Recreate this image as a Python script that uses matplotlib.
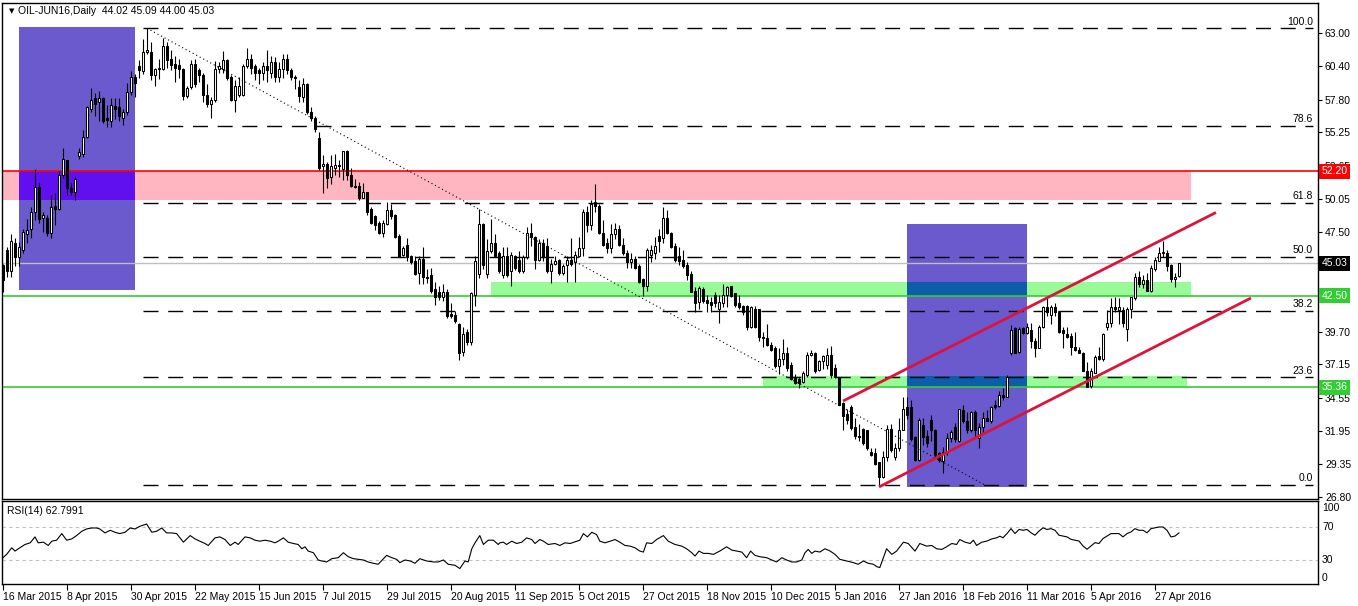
import matplotlib
matplotlib.use("Agg")
import matplotlib.pyplot as plt
import matplotlib.transforms as mtransforms
from matplotlib.patches import Rectangle

# ---- candles (one per trading day, 16 Mar 2015 .. 3 May 2016) ----
opens = [
    44.9, 46.1, 44.4, 46.6, 45.5, 46.1, 47.3, 47.7, 49.0, 51.0,
    48.6, 48.6, 47.4, 49.5, 49.3, 51.9, 53.1, 50.9, 50.6, 53.4,
    53.6, 54.9, 57.1, 57.9, 57.6, 57.9, 56.4, 56.1, 57.3, 57.2,
    56.4, 56.8, 58.4, 59.6, 60.4, 60.0, 61.5, 61.5, 59.7, 60.2,
    60.2, 62.0, 61.0, 60.6, 60.5, 60.2, 58.1, 58.8, 60.6, 60.1,
    59.7, 58.2, 57.5, 57.8, 60.2, 60.2, 60.9, 59.6, 57.8, 58.2,
    58.2, 60.4, 61.0, 60.4, 60.1, 59.9, 60.4, 59.9, 60.7, 59.6,
    60.2, 61.0, 60.1, 59.6, 58.8, 58.0, 59.0, 56.8, 56.4, 54.8,
    52.6, 52.8, 51.8, 52.5, 52.7, 52.4, 53.8, 51.9, 51.1, 51.1,
    50.1, 50.6, 49.3, 48.7, 48.2, 47.4, 48.1, 49.2, 48.8, 47.2,
    45.7, 46.5, 45.6, 45.2, 44.3, 45.4, 44.0, 44.1, 43.0, 42.8,
    42.4, 42.8, 41.1, 41.0, 40.3, 38.1, 39.7, 38.9, 42.6, 44.2,
    48.1, 44.2, 46.0, 46.6, 45.8, 44.1, 45.6, 44.4, 45.6, 45.3,
    44.4, 45.5, 47.4, 47.1, 45.3, 46.6, 46.4, 44.4, 45.0, 45.3,
    44.3, 44.9, 45.3, 45.1, 45.6, 46.2, 49.0, 48.0, 49.8, 49.5,
    47.4, 46.6, 46.2, 47.3, 47.7, 46.5, 45.8, 45.1, 45.4, 44.8,
    43.8, 43.3, 45.7, 45.8, 47.2, 47.0, 48.6, 47.4, 46.4, 45.6,
    45.3, 44.9, 44.2, 42.9, 42.0, 43.0, 42.2, 42.0, 42.6, 41.5,
    41.9, 42.6, 43.3, 42.7, 41.9, 41.7, 41.7, 40.1, 41.5, 41.5,
    39.3, 39.2, 38.7, 38.4, 37.0, 37.6, 38.0, 37.1, 36.1, 36.0,
    35.8, 36.3, 37.9, 38.0, 36.7, 37.4, 37.1, 37.9, 36.9, 36.2,
    34.1, 33.3, 33.8, 32.3, 31.6, 32.1, 32.0, 30.3, 30.2, 29.5,
    28.4, 29.9, 32.1, 29.9, 30.6, 32.0, 33.8, 33.8, 31.5, 29.7,
    32.4, 31.6, 32.8, 32.0, 30.2, 29.6, 30.3, 31.4, 32.3, 31.2,
    33.6, 32.7, 32.0, 33.4, 31.4, 32.3, 33.0, 32.7, 34.0, 33.9,
    34.8, 34.6, 38.0, 40.0, 38.1, 40.0, 39.6, 39.8, 39.0, 38.4,
    40.1, 41.6, 41.0, 41.6, 41.2, 39.8, 39.5, 39.4, 38.5, 38.3,
    38.0, 36.6, 35.5, 36.5, 37.8, 37.6, 40.1, 40.4, 41.6, 41.4,
    41.4, 39.9, 41.5, 42.3, 44.0, 43.4, 43.7, 42.9, 44.6, 45.2,
    45.8, 45.8, 44.9, 43.8, 44.02,
]
highs = [
    45.0, 46.3, 47.3, 47.0, 46.7, 47.7, 48.5, 49.4, 52.4, 51.3,
    49.0, 48.8, 50.4, 50.5, 52.2, 54.0, 53.1, 51.3, 51.8, 54.0,
    55.4, 57.3, 58.7, 58.3, 58.5, 58.0, 57.4, 57.9, 57.9, 57.9,
    57.1, 59.1, 60.0, 59.8, 60.9, 62.5, 63.4, 62.3, 60.3, 61.0,
    62.6, 62.3, 61.7, 61.2, 61.0, 60.3, 58.9, 60.9, 61.0, 60.3,
    59.9, 59.0, 58.0, 60.8, 60.7, 61.6, 61.0, 59.7, 59.3, 59.6,
    60.6, 61.8, 61.4, 60.6, 60.3, 60.7, 61.7, 61.2, 61.1, 60.7,
    61.4, 61.4, 60.3, 59.7, 59.3, 59.5, 59.1, 57.2, 56.5, 55.3,
    53.5, 52.9, 53.5, 53.6, 53.1, 53.8, 53.9, 52.5, 51.6, 51.4,
    51.3, 50.6, 49.4, 48.8, 48.3, 48.4, 49.8, 49.7, 48.9, 47.3,
    46.4, 47.0, 45.7, 45.6, 45.6, 46.3, 44.6, 44.7, 43.6, 43.3,
    43.4, 43.0, 41.9, 41.3, 40.4, 40.1, 39.9, 42.8, 45.6, 49.3,
    48.2, 46.9, 48.5, 47.3, 46.0, 46.3, 46.3, 45.9, 45.7, 46.0,
    45.7, 47.9, 48.2, 47.2, 46.9, 46.9, 47.0, 45.4, 45.6, 45.4,
    45.0, 45.6, 47.0, 46.0, 47.1, 49.3, 49.5, 50.0, 51.2, 49.7,
    48.4, 47.0, 48.1, 48.2, 48.0, 47.0, 46.1, 45.8, 45.6, 45.0,
    43.9, 46.2, 46.5, 47.1, 47.7, 49.4, 49.2, 47.5, 46.6, 46.3,
    46.1, 45.1, 44.4, 43.2, 43.3, 43.2, 42.6, 42.4, 42.8, 42.6,
    43.4, 43.3, 43.3, 42.7, 42.6, 41.8, 41.8, 41.7, 41.7, 41.5,
    39.7, 40.3, 38.9, 38.6, 38.4, 39.1, 38.5, 37.3, 36.4, 36.2,
    36.6, 38.1, 38.3, 38.1, 37.5, 37.9, 38.4, 38.6, 37.2, 36.2,
    34.2, 33.7, 34.0, 33.0, 32.5, 32.2, 32.0, 30.6, 30.6, 29.5,
    30.4, 32.4, 32.5, 31.0, 33.0, 34.6, 34.6, 34.4, 31.6, 33.0,
    33.0, 32.0, 33.2, 32.1, 30.3, 30.7, 31.8, 32.0, 32.6, 33.7,
    34.0, 33.4, 33.5, 33.6, 32.6, 33.4, 33.6, 33.9, 34.4, 35.1,
    35.3, 36.3, 40.2, 40.1, 40.1, 40.1, 40.4, 40.4, 39.2, 40.2,
    41.7, 42.3, 41.8, 41.9, 41.2, 40.1, 40.1, 39.6, 39.7, 38.5,
    38.1, 37.3, 36.9, 37.9, 38.5, 39.6, 41.4, 42.3, 42.4, 42.3,
    41.6, 41.6, 42.4, 44.3, 44.4, 44.1, 44.3, 44.9, 45.5, 46.3,
    46.8, 46.1, 45.0, 44.3, 45.09,
]
lows = [
    42.8, 44.0, 44.0, 44.8, 44.8, 45.8, 46.6, 47.0, 48.4, 48.2,
    47.5, 47.2, 47.0, 48.0, 49.2, 51.7, 50.4, 50.4, 50.0, 53.2,
    53.3, 54.8, 56.8, 56.5, 56.1, 56.0, 55.7, 55.7, 56.3, 56.1,
    55.8, 56.6, 58.2, 58.0, 59.5, 59.8, 61.4, 59.3, 58.9, 59.4,
    60.1, 60.3, 60.1, 59.2, 59.5, 57.8, 57.9, 58.6, 58.8, 59.2,
    57.6, 57.2, 56.4, 57.6, 59.9, 59.9, 59.3, 57.7, 56.8, 58.0,
    58.1, 60.3, 59.8, 59.3, 59.0, 59.3, 59.2, 59.5, 59.2, 59.2,
    59.5, 59.8, 59.3, 58.6, 57.6, 57.6, 56.7, 56.1, 55.3, 52.3,
    50.5, 50.9, 51.2, 51.9, 51.8, 51.5, 51.5, 51.0, 50.9, 50.0,
    50.1, 48.8, 48.1, 47.6, 47.3, 47.1, 48.0, 48.5, 47.0, 45.5,
    45.6, 45.2, 45.0, 44.1, 43.4, 43.4, 43.5, 42.7, 41.8, 42.2,
    42.1, 40.8, 40.8, 40.4, 37.5, 37.8, 38.7, 38.7, 41.7, 43.9,
    44.6, 43.9, 45.8, 45.5, 44.3, 43.9, 44.0, 43.3, 44.5, 44.3,
    44.3, 45.4, 46.4, 44.6, 45.2, 45.2, 44.3, 43.5, 44.9, 44.1,
    44.1, 43.6, 44.8, 43.6, 45.5, 45.6, 47.5, 47.6, 49.0, 47.3,
    46.4, 45.8, 45.8, 46.9, 46.4, 45.7, 44.7, 44.7, 44.6, 43.5,
    42.5, 42.9, 45.1, 45.4, 45.9, 46.6, 47.3, 46.2, 45.1, 44.9,
    44.7, 43.7, 42.8, 41.2, 41.5, 41.9, 41.2, 41.2, 41.6, 40.4,
    41.6, 41.6, 42.4, 41.6, 41.5, 41.0, 39.8, 40.0, 40.0, 39.0,
    38.5, 38.6, 38.2, 36.9, 36.4, 37.1, 36.6, 35.9, 35.6, 35.3,
    35.7, 36.2, 37.8, 36.5, 36.6, 36.8, 36.8, 36.1, 36.1, 34.0,
    32.0, 32.5, 32.0, 31.3, 31.2, 30.9, 30.5, 30.0, 29.3, 27.7,
    28.3, 29.6, 30.3, 29.7, 30.4, 32.0, 32.9, 31.2, 29.6, 29.6,
    30.9, 30.7, 31.2, 29.9, 29.5, 28.7, 30.1, 31.1, 31.1, 31.1,
    32.6, 31.8, 31.9, 31.4, 30.6, 31.8, 32.7, 32.6, 33.7, 33.8,
    34.4, 34.6, 37.9, 38.0, 38.0, 39.5, 39.5, 38.4, 37.7, 38.4,
    40.0, 40.9, 40.3, 40.9, 39.6, 38.4, 39.2, 37.9, 38.2, 38.0,
    36.6, 35.4, 35.3, 36.5, 37.5, 37.4, 39.8, 40.1, 41.2, 40.3,
    40.1, 39.0, 40.8, 42.2, 43.2, 43.1, 42.9, 42.8, 44.4, 45.2,
    45.5, 44.4, 43.6, 43.2, 44.00,
]
closes = [
    43.7, 44.4, 46.8, 45.5, 46.3, 47.5, 47.6, 49.0, 51.0, 48.5,
    48.8, 47.4, 49.4, 49.3, 51.9, 53.2, 50.9, 50.6, 51.6, 53.7,
    54.9, 57.2, 57.8, 57.5, 57.9, 56.1, 56.2, 57.4, 57.1, 56.5,
    56.8, 58.4, 59.6, 59.1, 60.1, 61.5, 61.7, 59.7, 60.2, 60.3,
    62.0, 60.9, 60.5, 60.3, 60.2, 58.1, 58.7, 60.6, 59.0, 59.7,
    58.2, 57.5, 57.8, 60.2, 60.4, 60.9, 59.5, 57.8, 58.9, 58.9,
    60.4, 61.0, 60.3, 59.9, 59.9, 60.4, 60.1, 60.7, 59.6, 60.2,
    61.0, 60.1, 59.6, 59.5, 58.1, 59.0, 56.8, 56.4, 55.5, 52.5,
    52.8, 51.7, 52.6, 52.7, 52.6, 53.8, 51.9, 51.1, 51.0, 50.1,
    50.6, 49.0, 48.2, 48.0, 47.4, 48.2, 49.2, 48.7, 47.1, 45.5,
    46.2, 45.5, 45.1, 44.2, 45.4, 44.0, 43.9, 42.9, 42.4, 42.4,
    42.8, 40.9, 40.9, 40.5, 38.0, 39.5, 38.9, 42.7, 45.2, 48.1,
    44.9, 46.0, 46.6, 45.6, 44.4, 45.6, 44.1, 45.7, 44.7, 44.4,
    45.5, 47.4, 47.1, 45.3, 46.6, 45.5, 44.4, 45.0, 45.2, 44.3,
    44.8, 45.3, 45.0, 45.7, 46.2, 49.0, 48.0, 49.7, 49.5, 47.4,
    46.5, 46.2, 47.3, 47.7, 46.5, 45.8, 45.1, 45.4, 44.7, 43.6,
    43.3, 46.1, 46.1, 46.4, 46.8, 48.6, 47.4, 46.3, 45.3, 45.2,
    44.8, 44.1, 42.8, 41.9, 43.1, 42.1, 41.9, 41.8, 41.9, 42.0,
    42.6, 43.2, 42.5, 41.8, 41.6, 41.2, 40.1, 41.6, 40.1, 39.3,
    39.2, 38.7, 38.3, 37.0, 37.6, 38.0, 36.9, 36.0, 35.7, 35.7,
    36.5, 37.9, 38.0, 36.6, 37.4, 37.8, 37.9, 36.3, 36.2, 34.0,
    33.1, 32.8, 32.2, 31.6, 31.5, 31.0, 30.6, 30.1, 29.4, 28.4,
    29.9, 32.1, 30.5, 30.6, 32.0, 33.7, 33.2, 31.3, 29.7, 32.8,
    31.5, 31.0, 32.0, 30.1, 29.7, 30.3, 31.4, 31.9, 31.3, 33.7,
    32.7, 32.0, 33.4, 32.0, 32.3, 33.0, 32.7, 33.8, 33.8, 34.8,
    34.6, 36.2, 39.8, 38.0, 39.9, 39.6, 40.1, 39.0, 38.4, 40.1,
    41.6, 41.2, 41.6, 41.2, 39.7, 39.6, 39.3, 38.5, 38.3, 38.0,
    36.6, 35.4, 36.6, 37.7, 37.6, 39.5, 40.4, 41.6, 41.5, 41.6,
    40.4, 41.5, 42.4, 44.0, 43.4, 43.7, 42.9, 44.7, 45.3, 45.8,
    45.9, 44.8, 43.8, 44.0, 45.03,
]
assert len(opens) == len(highs) == len(lows) == len(closes), (
    len(opens), len(highs), len(lows), len(closes))

# ---- RSI(14) (bar index, value) ----
rsi_bar = [
    0, 0.9, 2.2, 3, 4.2, 5.5, 6.8, 8, 8.8, 10.1, 11.3, 12.2, 13.4, 14.7, 15.9,
    17.2, 18.4, 19.7, 20.9, 22.2, 23.4, 24.2, 25.5, 26.8, 28, 29.2, 30.5, 31.8,
    33, 34.2, 35.9, 37.2, 38.4, 39.7, 40.9, 42.2, 43.4, 45.1, 46.8, 48, 49.2,
    50.5, 51.3, 53, 54.2, 55.5, 56.8, 58, 58.8, 60.5, 61.8, 63, 64.2, 65.5,
    66.8, 68, 68.8, 70.1, 71.3, 72.6, 73.8, 74.7, 75.5, 76.3, 77.6, 78.8, 79.7,
    80.9, 82.2, 83.8, 85.1, 86.3, 87.6, 88.8, 90.1, 91.3, 92.6, 93.8, 95.9,
    97.2, 98.4, 99.2, 100.5, 101.8, 103, 104.2, 105.9, 107.6, 108.8, 110.1,
    111.3, 113, 114.2, 115.5, 116.3, 117.2, 118, 119.2, 120.1, 121.3, 122.6,
    123.8, 124.2, 125.1, 125.9, 127.2, 128.4, 129.7, 130.9, 132.2, 133, 134.2,
    135.1, 136.3, 138, 139.2, 140.5, 141.8, 143, 144.2, 145.1, 146.1, 147.2,
    148.4, 149.2, 150.5, 151.8, 153, 154.2, 155.5, 156.8, 158, 159.2, 160.1,
    160.9, 162.2, 163.4, 165.1, 166.3, 168, 169.7, 170.9, 172.2, 173, 174,
    175.1, 176.3, 177.6, 179.2, 180.9, 182.2, 183.4, 184.7, 185.9, 186.9, 188,
    189.2, 190.9, 192.2, 193.4, 194.7, 195.9, 197.2, 198.4, 199.7, 200.5,
    201.3, 202.2, 203, 204.2, 205.5, 206.8, 208, 209.2, 210.9, 212.6, 213.8,
    215.1, 216.3, 217.6, 218.4, 219.2, 220.9, 222.2, 223.4, 225.1, 226.3, 228,
    229.2, 230.9, 232.2, 233.4, 234.7, 235.9, 237.2, 238.4, 239.2, 240.5,
    241.8, 242.6, 243.4, 244.7, 245.9, 247.2, 248.4, 249.2, 250, 251, 252,
    253, 254, 255, 256, 257, 258, 259, 260, 261, 262, 263, 264, 265, 266, 267,
    268, 269, 270, 271, 272, 273, 274, 275, 276, 277, 278, 279, 280, 281, 282,
    283, 284, 285, 286, 287, 288, 289, 290, 291, 292, 293, 294,
]
rsi_val = [
    32.8, 36.8, 44.8, 40.8, 44.8, 48.8, 50.8, 58.0, 50.8, 51.6, 47.6, 52.8,
    54.0, 62.0, 54.0, 55.6, 59.6, 64.8, 67.6, 68.8, 68.8, 67.6, 62.8, 66.0,
    63.6, 62.0, 63.6, 68.8, 67.6, 70.8, 73.6, 63.6, 64.8, 68.8, 62.8, 62.8,
    62.0, 51.6, 59.6, 55.6, 52.8, 50.0, 47.6, 56.8, 58.0, 54.8, 47.6, 51.6,
    48.8, 58.0, 56.8, 54.0, 52.8, 54.0, 52.8, 50.8, 52.8, 56.8, 51.6, 50.0,
    48.8, 43.6, 46.0, 40.8, 38.8, 30.0, 28.8, 27.6, 31.6, 32.8, 38.8, 34.0,
    31.6, 30.8, 30.0, 27.6, 26.0, 24.8, 35.6, 32.8, 30.8, 26.8, 30.0, 28.8,
    26.0, 31.6, 28.8, 27.6, 27.6, 30.0, 24.8, 23.6, 19.6, 28.8, 27.6, 43.6,
    50.8, 59.6, 48.8, 54.0, 54.0, 48.8, 50.8, 51.6, 48.8, 52.8, 50.0, 51.6,
    56.8, 54.8, 50.0, 54.8, 52.8, 48.8, 50.0, 47.6, 50.8, 50.0, 52.0, 54.0,
    62.0, 58.0, 63.6, 60.8, 52.8, 50.8, 52.8, 54.8, 51.6, 47.6, 46.8, 44.8,
    40.8, 39.6, 50.8, 50.0, 54.8, 59.6, 52.8, 48.8, 46.8, 43.6, 38.8, 34.8,
    40.8, 38.0, 38.0, 36.8, 40.8, 46.0, 42.0, 40.8, 39.6, 32.8, 40.8, 35.6,
    34.0, 32.8, 30.0, 27.6, 32.8, 30.0, 27.6, 27.6, 30.0, 38.8, 42.8, 38.0,
    40.8, 39.6, 43.6, 40.8, 36.8, 30.8, 28.8, 26.8, 24.8, 28.8, 26.0, 24.8,
    22.0, 20.8, 43.6, 36.8, 40.8, 51.6, 50.0, 40.8, 50.0, 46.8, 47.6, 43.6,
    42.8, 46.0, 50.0, 48.8, 54.8, 51.6, 50.0, 54.0, 47.6, 51.6, 52.8, 55.6,
    56.8, 58.8, 57.0, 62.0, 68.0, 62.0, 67.0, 66.0, 67.0, 63.0, 60.0, 65.0,
    69.0, 67.0, 68.0, 66.0, 60.0, 59.0, 58.0, 55.0, 54.0, 53.0, 47.0, 43.0,
    47.0, 51.0, 50.0, 56.0, 59.0, 62.0, 62.0, 62.0, 58.0, 62.0, 64.0, 68.0,
    66.0, 66.0, 63.0, 68.0, 69.0, 70.0, 70.0, 66.0, 58.0, 59.0, 62.8,
]

# ---- annotation objects ----
date_labels = [
    "16 Mar 2015", "8 Apr 2015", "30 Apr 2015", "22 May 2015", "15 Jun 2015",
    "7 Jul 2015", "29 Jul 2015", "20 Aug 2015", "11 Sep 2015", "5 Oct 2015",
    "27 Oct 2015", "18 Nov 2015", "10 Dec 2015", "5 Jan 2016", "27 Jan 2016",
    "18 Feb 2016", "11 Mar 2016", "5 Apr 2016", "27 Apr 2016",
]
date_bars = list(range(0, 16 * len(date_labels), 16))
# scale labels left visible (44.90 and 42.30 sit under the price tags)
price_ticks = [63.00, 60.40, 57.80, 55.25, 52.65, 50.05, 47.50,
               39.70, 37.15, 34.55, 31.95, 29.35, 26.80]

fib_high, fib_low = 63.37, 27.74
fib_levels = [0.0, 23.6, 38.2, 50.0, 61.8, 78.6, 100.0]
fib_start_bar = 35
resistance = 52.20
supports = [42.50, 35.36]
bid = 45.03
# zones: (first bar, last bar, low price, high price)
pink_zone = (-0.25, 297, 49.97, 52.20)
green_zones = [(122, 297, 42.50, 43.57), (190, 296, 35.36, 36.24)]
blue_boxes = [(4, 33, 42.95, 63.47), (226, 256, 27.60, 48.10)]
trend_pts = [(36, 63.37), (245.5, 27.74)]
channel_upper = [(210, 34.29), (303.25, 49.00)]
channel_lower = [(219, 27.59), (312, 42.33)]

W, H = 1358, 606
FS = 7.5
plt.rcParams["font.family"] = ["Liberation Sans", "DejaVu Sans"]
fig = plt.figure(figsize=(W / 100, H / 100), dpi=100)
ax = fig.add_axes([2 / W, 1 - 499 / H, 1316 / W, 496 / H])
ax_rsi = fig.add_axes([2 / W, 1 - 584 / H, 1316 / W, 83 / H])

XLIM = (-0.25, 328.75)
ax.set_xlim(*XLIM)
ax.set_ylim(26.65, 65.34)


def add_box(x0, x1, y0, y1, color, z):
    ax.add_patch(Rectangle((x0, y0), x1 - x0, y1 - y0, facecolor=color,
                           edgecolor="none", zorder=z))


add_box(*pink_zone, "#FFB6C1", 1)
for g in green_zones:
    add_box(*g, "#98FB98", 1)
for b in blue_boxes:
    add_box(*b, "#6A5ACD", 1.2)
    for other, col in [(pink_zone, "#6010EE")] + [(g, "#0E5DA8") for g in green_zones]:
        x0, x1 = max(b[0], other[0]), min(b[1], other[1])
        y0, y1 = max(b[2], other[2]), min(b[3], other[3])
        if x0 < x1 and y0 < y1:
            add_box(x0, x1, y0, y1, col, 1.3)

# horizontal lines
ax.axhline(resistance, color="#FF0000", lw=1.2, zorder=2)
for s in supports:
    ax.axhline(s, color="#32CD32", lw=1.2, zorder=2)
ax.axhline(bid, color="#C0C0C0", lw=1.0, zorder=2)

# fibonacci
fib_end = XLIM[1] - 1.3
for lv in fib_levels:
    p = fib_low + (fib_high - fib_low) * lv / 100
    ax.plot([fib_start_bar, fib_end], [p, p], color="black", lw=1.0,
            dashes=(10.8, 7.0), zorder=2)
    ax.text(fib_end, p + 0.12, f"{lv:.1f}", ha="right", va="bottom",
            fontsize=FS, zorder=5)

# candles
idx = list(range(len(closes)))
ax.vlines(idx, lows, highs, color="black", lw=0.8, zorder=3)
bottoms = [min(o, c) for o, c in zip(opens, closes)]
heights = [max(abs(c - o), 0.04) for o, c in zip(opens, closes)]
fills = ["white" if c >= o else "black" for o, c in zip(opens, closes)]
ax.bar(idx, heights, bottom=bottoms, width=0.55, color=fills,
       edgecolor="black", linewidth=0.75, zorder=3.5)

# trend line and channel
ax.plot(*zip(*trend_pts), color="black", lw=0.8, dashes=(1, 2.6), zorder=4)
for ln in (channel_upper, channel_lower):
    ax.plot(*zip(*ln), color="#DC143C", lw=2.0, zorder=4,
            solid_capstyle="butt")

# axes styling
ax.set_xticks([])
ax.yaxis.tick_right()
ax.set_yticks(price_ticks)
ax.set_yticklabels([f"{v:.2f}" for v in price_ticks])
ax.tick_params(axis="y", length=3, width=0.8, pad=2, labelsize=FS)
for sp in ax.spines.values():
    sp.set_linewidth(1.0)

tr = mtransforms.blended_transform_factory(ax.transAxes, ax.transData)
for val, col in [(resistance, "#FF0000"), (bid, "#000000"),
                 (supports[0], "#32CD32"), (supports[1], "#32CD32")]:
    ax.text(1.0025, val, f"{val:.2f}", transform=tr, ha="left", va="center",
            color="white", fontsize=FS, zorder=20, clip_on=False,
            bbox=dict(boxstyle="square,pad=0.25", fc=col, ec="none"))

fig.text(9 / W, 1 - 11 / H, "\u25BC", fontsize=5, va="center", ha="left",
         family="DejaVu Sans")
fig.text(18 / W, 1 - 11 / H, "OIL-JUN16,Daily  44.02 45.09 44.00 45.03",
         fontsize=FS, va="center", ha="left")

# RSI panel
ax_rsi.set_xlim(*XLIM)
ax_rsi.set_ylim(0.9, 101.5)
for lvl in (30, 70):
    ax_rsi.axhline(lvl, color="#C0C0C0", lw=0.8, dashes=(3, 3))
ax_rsi.plot(rsi_bar, rsi_val, color="black", lw=0.8)
ax_rsi.set_yticks([])
trr = mtransforms.blended_transform_factory(ax_rsi.transAxes, ax_rsi.transData)
for val, lab in [(93, "100"), (70, "70"), (30, "30"), (8.2, "0")]:
    ax_rsi.text(1.003, val, lab, transform=trr, ha="left", va="center",
                fontsize=FS, clip_on=False)
ax_rsi.text(5 / 1316, 0.88, "RSI(14) 62.7991", transform=ax_rsi.transAxes,
            fontsize=FS, va="center", ha="left")
ax_rsi.set_xticks(date_bars)
ax_rsi.set_xticklabels(date_labels, ha="left")
ax_rsi.tick_params(axis="x", length=4, width=0.8, pad=2, labelsize=FS)
for sp in ax_rsi.spines.values():
    sp.set_linewidth(1.0)

fig.savefig("out.png", dpi=100, facecolor="white")
